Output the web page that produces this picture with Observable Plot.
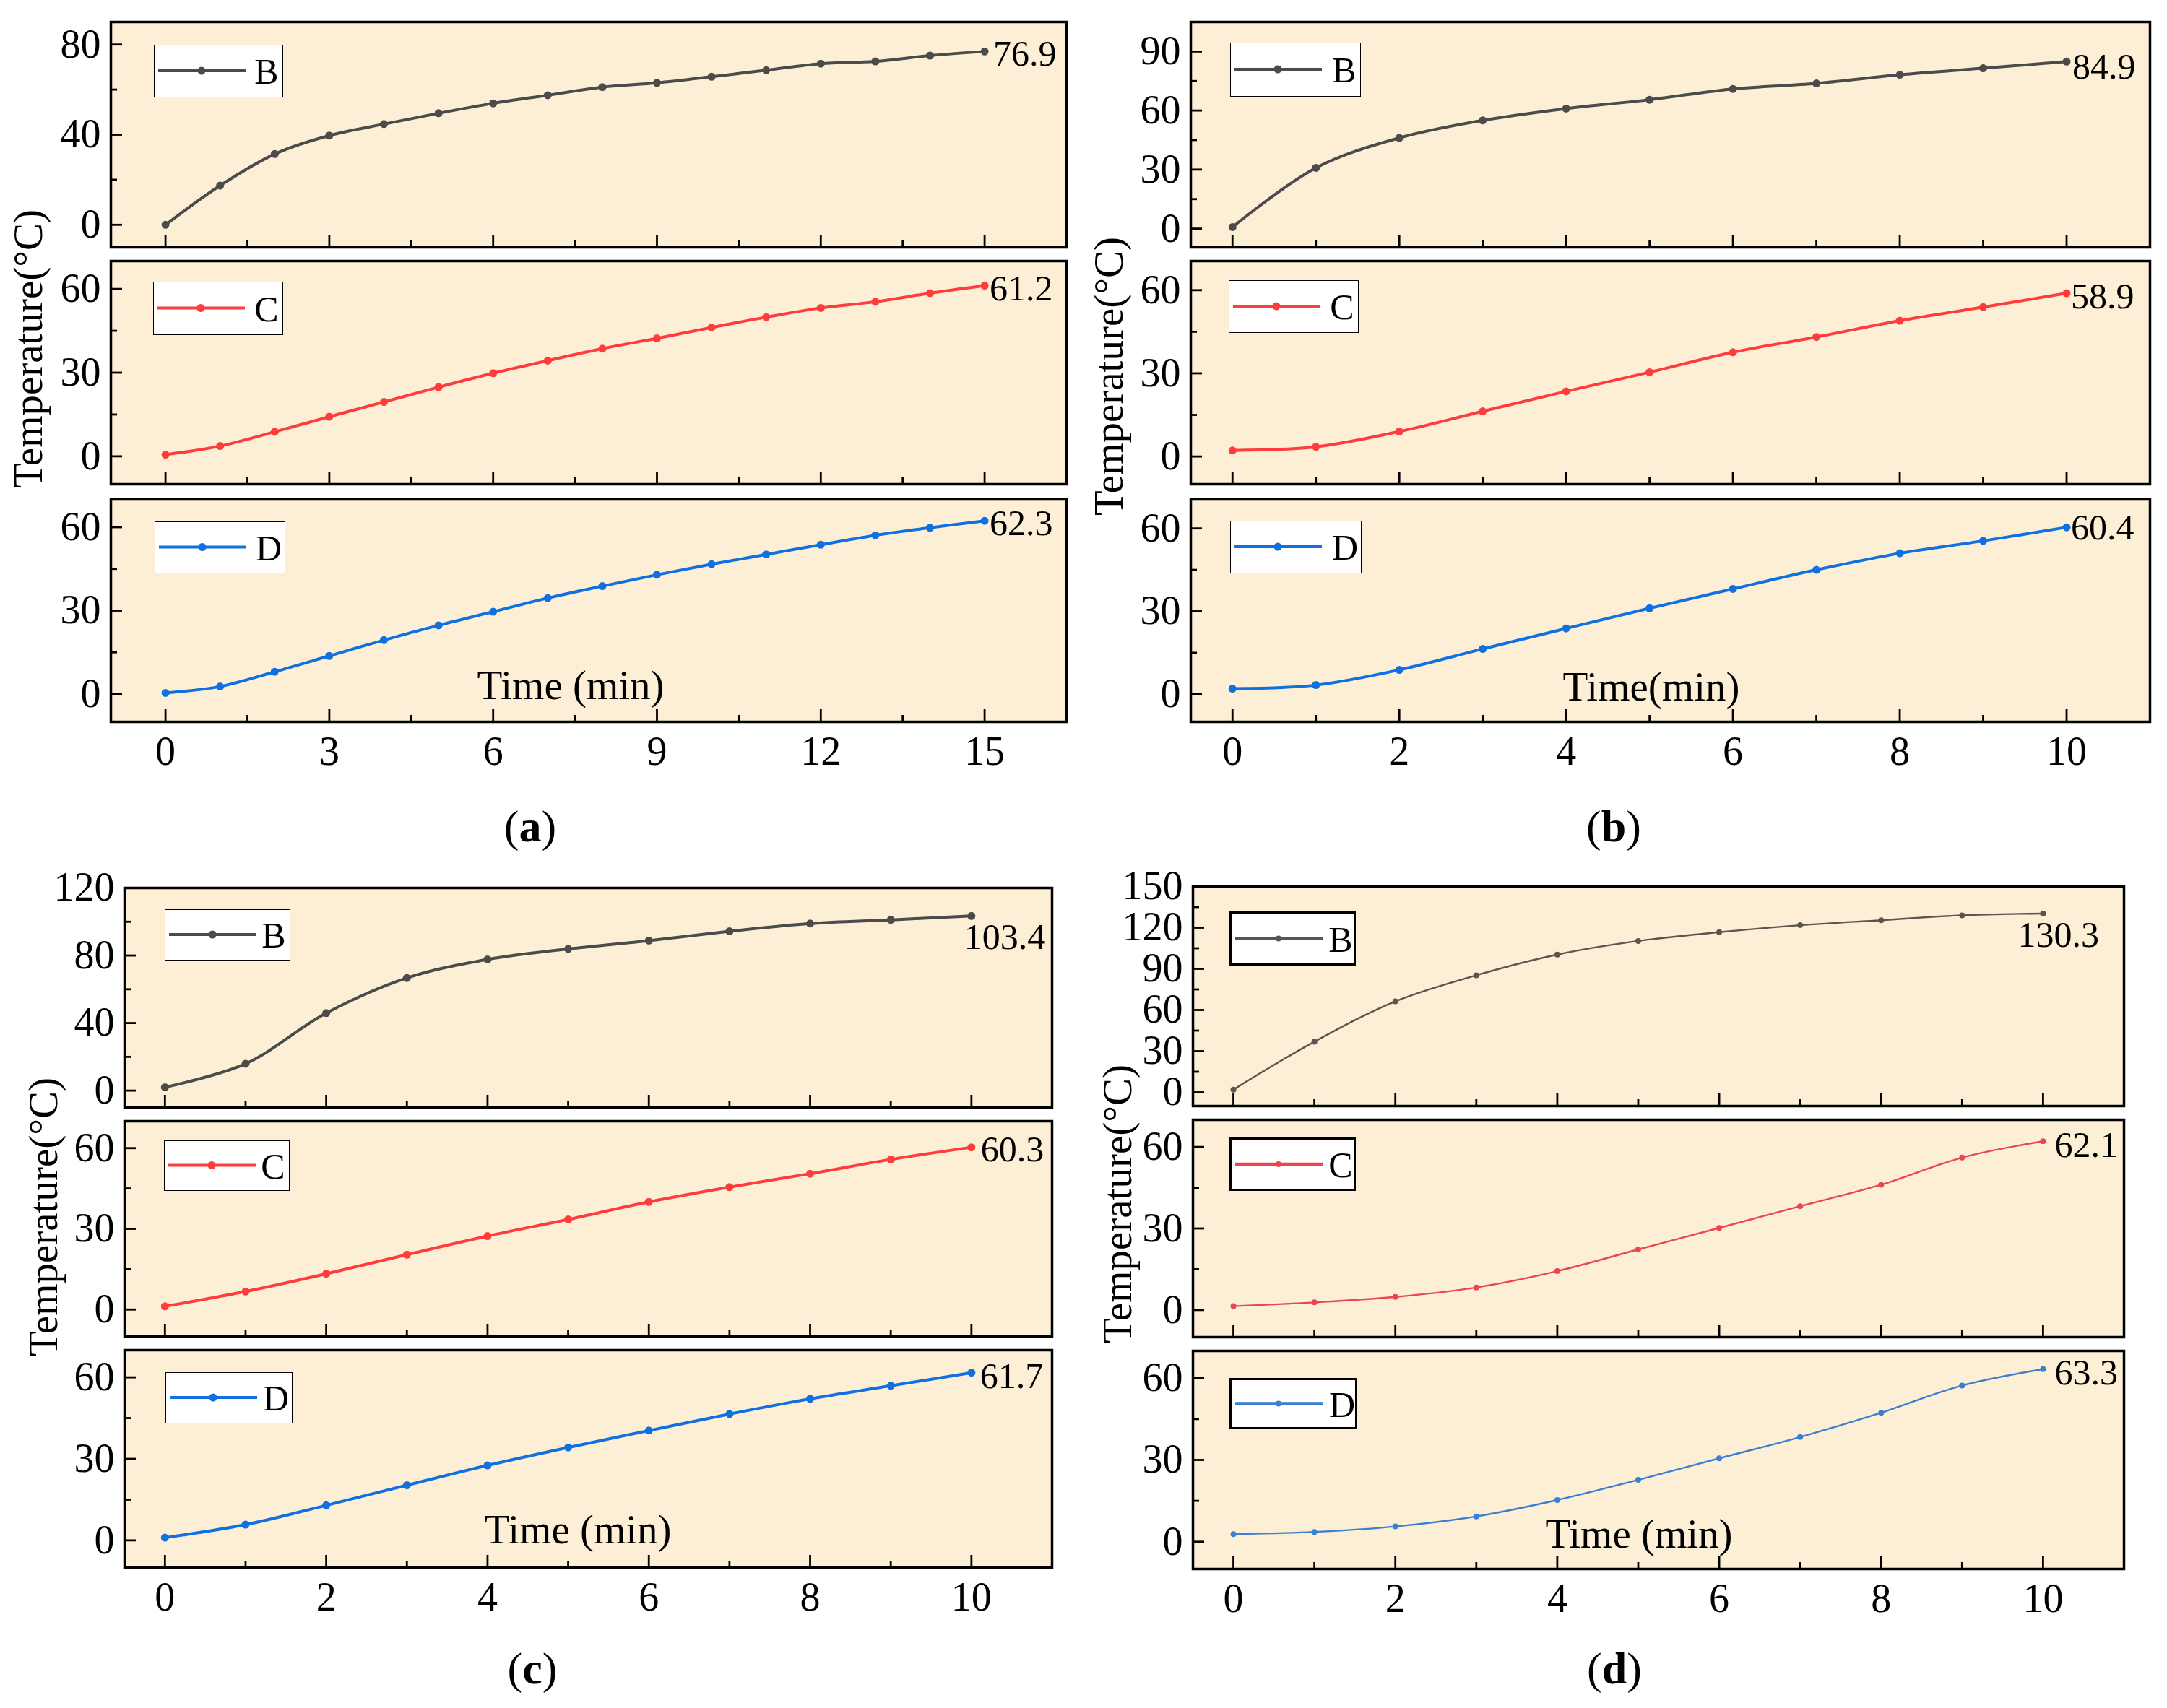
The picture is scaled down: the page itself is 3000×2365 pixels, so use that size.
<!DOCTYPE html>
<html>
<head>
<meta charset="utf-8">
<script src="https://cdn.jsdelivr.net/npm/d3@7"></script>
<script src="https://cdn.jsdelivr.net/npm/@observablehq/plot@0.6"></script>
<style>
  html, body { margin: 0; padding: 0; background: #fff; }
  #root { position: relative; width: 3000px; height: 2365px; background: #fff; overflow: hidden; }
  .lbl { position: absolute; white-space: nowrap; font-family: 'Liberation Serif', 'Times New Roman', 'DejaVu Serif', serif; color: #000; line-height: 1; }
</style>
</head>
<body>
<div id="root"></div>
<script>
// ---------------- DATA ----------------
const timeA = [0, 1, 2, 3, 4, 5, 6, 7, 8, 9, 10, 11, 12, 13, 14, 15];
const time10 = [0, 1, 2, 3, 4, 5, 6, 7, 8, 9, 10];

// Panel (a)
const aB = [0, 17.4, 31.4, 39.6, 44.7, 49.5, 53.9, 57.5, 61.1, 63.0, 65.7, 68.6, 71.5, 72.5, 75.1, 76.9];
const aC = [0.6, 3.7, 8.8, 14.2, 19.5, 24.8, 29.8, 34.3, 38.6, 42.3, 46.2, 49.9, 53.2, 55.4, 58.5, 61.2];
const aD = [0.4, 2.7, 8.0, 13.7, 19.4, 24.7, 29.6, 34.5, 38.8, 42.9, 46.7, 50.2, 53.7, 57.1, 59.8, 62.3];
// Panel (b)
const bB = [0.8, 30.9, 46.1, 55.0, 61.0, 65.5, 71.0, 73.8, 78.2, 81.5, 84.9];
const bC = [2.2, 3.5, 9.0, 16.3, 23.5, 30.4, 37.6, 43.1, 49.0, 53.9, 58.9];
const bD = [2.0, 3.3, 8.8, 16.4, 23.8, 31.1, 38.1, 45.0, 51.0, 55.5, 60.4];
// Panel (c)
const cB = [2.0, 15.9, 45.9, 66.7, 77.7, 83.9, 88.8, 94.3, 98.9, 101.1, 103.4];
const cC = [1.2, 6.7, 13.3, 20.4, 27.3, 33.5, 40.0, 45.5, 50.5, 55.8, 60.3];
const cD = [1.0, 5.8, 12.9, 20.3, 27.6, 34.2, 40.4, 46.5, 52.1, 56.9, 61.7];
// Panel (d)
const dB = [2.0, 36.9, 66.3, 85.3, 100.4, 110.3, 116.7, 121.8, 125.4, 129.0, 130.3];
const dC = [1.4, 2.8, 4.8, 8.3, 14.3, 22.3, 30.2, 38.2, 46.1, 56.1, 62.1];
const dD = [2.8, 3.6, 5.6, 9.3, 15.3, 22.7, 30.6, 38.4, 47.3, 57.3, 63.3];

// Tick values
const xTicksA = [0, 3, 6, 9, 12, 15];
const xMinorA = [1.5, 4.5, 7.5, 10.5, 13.5];
const xTicks10 = [0, 2, 4, 6, 8, 10];
const xMinor10 = [1, 3, 5, 7, 9];
const yTicks60 = [0, 30, 60];
const yMinor60 = [15, 45];
const yTicksA_B = [0, 40, 80];
const yMinorA_B = [20, 60];
const yTicksB_B = [0, 30, 60, 90];
const yMinorB_B = [15, 45, 75];
const yTicksC_B = [0, 40, 80, 120];
const yMinorC_B = [20, 60, 100];
const yTicksD_B = [0, 30, 60, 90, 120, 150];
const yMinorD_B = [15, 45, 75, 105, 135];

const seriesNames = ["B", "C", "D"];
const panelTags = ["a", "b", "c", "d"];
const xTitles = ["Time (min)", "Time(min)", "Time (min)", "Time (min)"];
const yTitle = "Temperature(\u00B0C)";

// ---------------- STYLE / LAYOUT ----------------
const FONT = "'Liberation Serif', 'Times New Roman', 'DejaVu Serif', serif";
const BG = "#fdeed6";
const styleMain = {colors: {B: "#4b4b4b", C: "#ff3c3c", D: "#1170e0"}, lw: 4, r: 5.5, legendLw: 4, border: 1.5};
const styleD = {colors: {B: "#5b554d", C: "#e9464e", D: "#3b7fd0"}, lw: 2.4, r: 4, legendLw: 4.5, border: 3};

const panels = [
  {tag: "a", time: timeA, xdom: [-1, 16.5], xMajor: xTicksA, xMinor: xMinorA, left: 153, right: 1476, style: styleMain,
   yTitle: [38, 483], xTitle: [790, 948], tagPos: [734, 1144],
   subs: [
     {key: "B", vals: aB, top: 30, bottom: 342, ydom: [-10, 90], yMajor: yTicksA_B, yMinor: yMinorA_B, dx: 12, dy: 4, legend: [213, 62, 392, 135]},
     {key: "C", vals: aC, top: 361, bottom: 670, ydom: [-10, 70], yMajor: yTicks60, yMinor: yMinor60, dx: 7, dy: 5, legend: [212, 390, 392, 464]},
     {key: "D", vals: aD, top: 691, bottom: 999, ydom: [-10, 70], yMajor: yTicks60, yMinor: yMinor60, dx: 7, dy: 4, legend: [214, 722, 395, 794]}
   ]},
  {tag: "b", time: time10, xdom: [-0.5, 11], xMajor: xTicks10, xMinor: xMinor10, left: 1648, right: 2976, style: styleMain,
   yTitle: [1534, 521], xTitle: [2286, 950], tagPos: [2234, 1144],
   subs: [
     {key: "B", vals: bB, top: 30, bottom: 342, ydom: [-9.5, 105], yMajor: yTicksB_B, yMinor: yMinorB_B, dx: 8, dy: 8, legend: [1703, 59, 1884, 134]},
     {key: "C", vals: bC, top: 361, bottom: 670, ydom: [-10, 70.5], yMajor: yTicks60, yMinor: yMinor60, dx: 6, dy: 5, legend: [1701, 388, 1881, 461]},
     {key: "D", vals: bD, top: 691, bottom: 999, ydom: [-10, 70.5], yMajor: yTicks60, yMinor: yMinor60, dx: 6, dy: 1, legend: [1703, 721, 1885, 794]}
   ]},
  {tag: "c", time: time10, xdom: [-0.5, 11], xMajor: xTicks10, xMinor: xMinor10, left: 172, right: 1456, style: styleMain,
   yTitle: [59, 1685], xTitle: [800, 2117], tagPos: [737, 2310],
   subs: [
     {key: "B", vals: cB, top: 1229, bottom: 1533, ydom: [-10, 120], yMajor: yTicksC_B, yMinor: yMinorC_B, dx: -10, dy: 30, legend: [228, 1259, 402, 1330]},
     {key: "C", vals: cC, top: 1552, bottom: 1850, ydom: [-10, 70], yMajor: yTicks60, yMinor: yMinor60, dx: 13, dy: 3, legend: [227, 1579, 401, 1649]},
     {key: "D", vals: cD, top: 1869, bottom: 2170, ydom: [-10, 70], yMajor: yTicks60, yMinor: yMinor60, dx: 12, dy: 5, legend: [229, 1900, 405, 1971]}
   ]},
  {tag: "d", time: time10, xdom: [-0.5, 11], xMajor: xTicks10, xMinor: xMinor10, left: 1651, right: 2940, style: styleD,
   yTitle: [1546, 1667], xTitle: [2269, 2123], tagPos: [2235, 2310],
   subs: [
     {key: "B", vals: dB, top: 1227, bottom: 1531, ydom: [-10, 150], yMajor: yTicksD_B, yMinor: yMinorD_B, dx: -35, dy: 30, legend: [1702, 1262, 1877, 1337]},
     {key: "C", vals: dC, top: 1550, bottom: 1851, ydom: [-10, 70], yMajor: yTicks60, yMinor: yMinor60, dx: 16, dy: 6, legend: [1702, 1575, 1877, 1649]},
     {key: "D", vals: dD, top: 1870, bottom: 2172, ydom: [-10, 70], yMajor: yTicks60, yMinor: yMinor60, dx: 16, dy: 5, legend: [1702, 1908, 1879, 1979]}
   ]}
];

const root = document.getElementById("root");
const fmt = d3.format(".1f");
const intFmt = d => String(d);

function addText(text, x, y, size, opts = {}) {
  const el = document.createElement("div");
  el.className = "lbl";
  el.style.fontSize = size + "px";
  el.style.left = x + "px";
  el.style.top = y + "px";
  el.style.transform = "translate(-50%,-50%)" + (opts.rotate ? " rotate(-90deg)" : "");
  if (opts.html) el.innerHTML = text; else el.textContent = text;
  root.appendChild(el);
  return el;
}

function addLegend(box, key, color, st) {
  const [x0, y0, x1, y1] = box;
  const w = x1 - x0, h = y1 - y0;
  const div = document.createElement("div");
  div.style.cssText = `position:absolute;left:${x0}px;top:${y0}px;width:${w}px;height:${h}px;background:#fff;border:${st.border}px solid #000;box-sizing:border-box;`;
  const cy = h / 2 - st.border;
  div.innerHTML = `<svg width="${w}" height="${h}" style="position:absolute;left:0;top:0;overflow:visible">
    <line x1="5" x2="126" y1="${cy}" y2="${cy}" stroke="${color}" stroke-width="${st.legendLw}"/>
    <circle cx="65" cy="${cy}" r="${st.r}" fill="${color}"/>
    <text x="${w - 24}" y="${cy}" dy="0.36em" text-anchor="middle" font-size="50" font-family="${FONT.replace(/'/g, "")}" fill="#000">${key}</text>
  </svg>`;
  root.appendChild(div);
}

function makeSub(p, s, isLast) {
  const st = p.style;
  const color = st.colors[s.key];
  const ML = 140, MR = 20, MT = 14, MB = isLast ? 100 : 14;
  const W = p.right - p.left, H = s.bottom - s.top;
  const data = p.time.map((t, i) => ({t, v: s.vals[i]}));
  const last = data[data.length - 1];
  const tickStyle = {strokeWidth: 2.8, label: null, stroke: "#000"};
  const marks = [
    Plot.frame({fill: BG, stroke: null}),
    Plot.axisY(s.yMajor, {anchor: "left", tickSize: -16, text: null, ...tickStyle}),
    Plot.axisY(s.yMinor, {anchor: "left", tickSize: -9, text: null, ...tickStyle}),
    Plot.axisY(s.yMajor, {anchor: "left", tickSize: 0, tickPadding: 14, fontSize: 56, label: null, fill: "#000", tickFormat: intFmt}),
    Plot.axisX(p.xMajor, {anchor: "bottom", tickSize: -17, text: null, ...tickStyle}),
    Plot.axisX(p.xMinor, {anchor: "bottom", tickSize: -9, text: null, ...tickStyle}),
    Plot.line(data, {x: "t", y: "v", stroke: color, strokeWidth: st.lw, curve: "catmull-rom"}),
    Plot.dot(data, {x: "t", y: "v", r: st.r, fill: color, stroke: null}),
    Plot.text([last], {x: "t", y: "v", text: d => fmt(d.v), dx: s.dx, dy: s.dy, textAnchor: "start", lineAnchor: "middle", fontSize: 50, fill: "#000"}),
    Plot.frame({stroke: "#000", strokeWidth: 3.5})
  ];
  if (isLast) marks.push(Plot.axisX(p.xMajor, {anchor: "bottom", tickSize: 0, tickPadding: 20, fontSize: 56, label: null, fill: "#000", tickFormat: intFmt}));
  const svg = Plot.plot({
    width: W + ML + MR, height: H + MT + MB,
    marginLeft: ML, marginRight: MR, marginTop: MT, marginBottom: MB,
    x: {domain: p.xdom, label: null},
    y: {domain: s.ydom, label: null},
    style: {fontFamily: FONT, background: "transparent", overflow: "visible", color: "#000"},
    marks
  });
  svg.style.position = "absolute";
  svg.style.left = (p.left - ML) + "px";
  svg.style.top = (s.top - MT) + "px";
  root.appendChild(svg);
  addLegend(s.legend, s.key, color, st);
}

panels.forEach((p, pi) => {
  p.subs.forEach((s, i) => makeSub(p, s, i === p.subs.length - 1));
  addText(yTitle, p.yTitle[0], p.yTitle[1], 57, {rotate: true});
  addText(xTitles[pi], p.xTitle[0], p.xTitle[1], 57);
  addText(`(<b>${panelTags[pi]}</b>)`, p.tagPos[0], p.tagPos[1], 62, {html: true});
});
</script>
</body>
</html>
